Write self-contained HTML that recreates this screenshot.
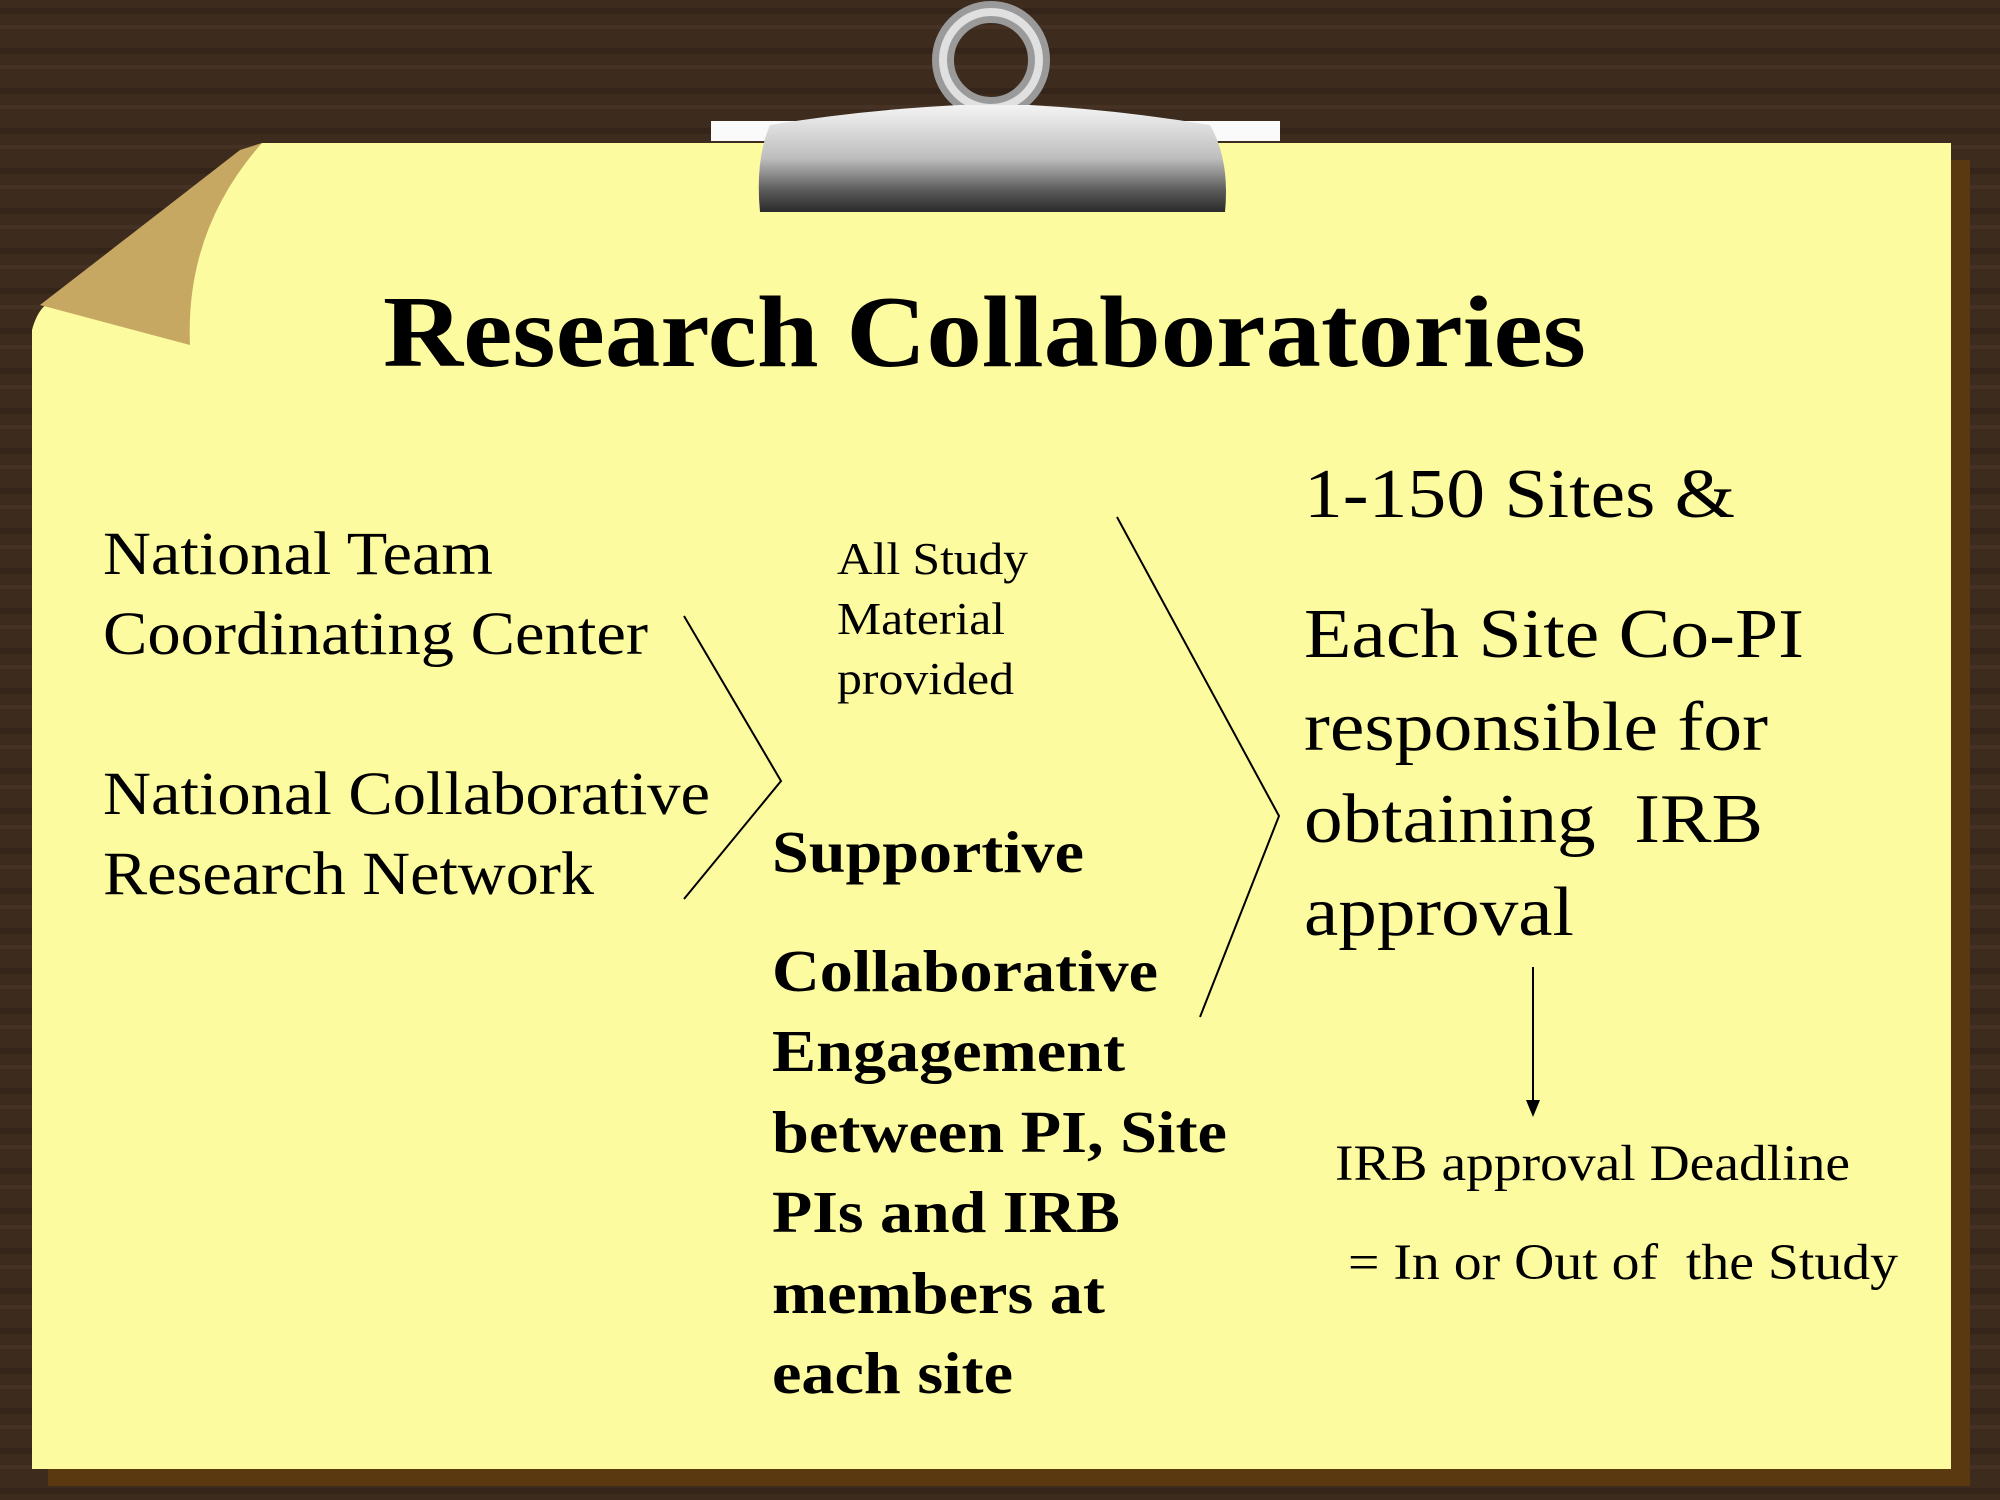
<!DOCTYPE html>
<html><head><meta charset="utf-8"><style>
html,body{margin:0;padding:0;background:#3b2a1d;}
svg{display:block}
text{font-family:"Liberation Serif",serif;fill:#000}
</style></head><body>
<svg width="2000" height="1500" viewBox="0 0 2000 1500">
<defs>
<pattern id="wood" width="2000" height="40" patternUnits="userSpaceOnUse">
<rect width="2000" height="40" fill="#3d2b1e"/>
<rect y="8" width="2000" height="6" fill="#34241a"/>
<rect y="25" width="2000" height="4" fill="#453225"/>
</pattern>
<linearGradient id="metal" x1="0" y1="0" x2="0" y2="1">
<stop offset="0" stop-color="#f4f4f4"/><stop offset="0.5" stop-color="#bdbdbd"/><stop offset="0.8" stop-color="#5a5a5a"/><stop offset="1" stop-color="#2a2a2a"/>
</linearGradient>
</defs>
<rect width="2000" height="1500" fill="url(#wood)"/>
<g fill="#5a3810">
<rect x="1951" y="160" width="19" height="1326"/>
<rect x="48" y="1469" width="1922" height="17"/>
</g>
<path d="M262,143 L1951,143 L1951,1469 L32,1469 L32,330 Q40,300 60,300 Z" fill="#fdfb9f"/>
<path d="M262,143 L240,150 Q150,220 40,305 L190,345 Q185,230 262,143 Z" fill="#c7a862"/>
<g>
<rect x="711" y="121" width="569" height="20" fill="#fafafa"/>
<circle cx="991" cy="60" r="48" fill="none" stroke="#9a9a9a" stroke-width="22"/>
<circle cx="991" cy="60" r="48" fill="none" stroke="#e0e0e0" stroke-width="8"/>
<path d="M770,125 Q860,110 960,105 L1030,105 Q1120,110 1210,125 Q1230,160 1225,212 L760,212 Q755,160 770,125 Z" fill="url(#metal)"/>
</g>
<text x="383" y="366" font-size="102" font-weight="bold" textLength="1203" lengthAdjust="spacingAndGlyphs">Research Collaboratories</text>
<g font-size="61">
<text x="103" y="574" textLength="390" lengthAdjust="spacingAndGlyphs">National Team</text>
<text x="103" y="654" textLength="545" lengthAdjust="spacingAndGlyphs">Coordinating Center</text>
<text x="103" y="814" textLength="607" lengthAdjust="spacingAndGlyphs">National Collaborative</text>
<text x="103" y="894" textLength="491" lengthAdjust="spacingAndGlyphs">Research Network</text>
</g>
<g font-size="46">
<text x="837" y="574" textLength="191" lengthAdjust="spacingAndGlyphs">All Study</text>
<text x="837" y="634" textLength="168" lengthAdjust="spacingAndGlyphs">Material</text>
<text x="837" y="694" textLength="177" lengthAdjust="spacingAndGlyphs">provided</text>
</g>
<g font-size="59" font-weight="bold">
<text x="772" y="872" textLength="312" lengthAdjust="spacingAndGlyphs">Supportive</text>
<text x="772" y="991" textLength="386" lengthAdjust="spacingAndGlyphs">Collaborative</text>
<text x="772" y="1071" textLength="353" lengthAdjust="spacingAndGlyphs">Engagement</text>
<text x="772" y="1152" textLength="455" lengthAdjust="spacingAndGlyphs">between PI, Site</text>
<text x="772" y="1232" textLength="348" lengthAdjust="spacingAndGlyphs">PIs and IRB</text>
<text x="772" y="1313" textLength="333" lengthAdjust="spacingAndGlyphs">members at</text>
<text x="772" y="1393" textLength="241" lengthAdjust="spacingAndGlyphs">each site</text>
</g>
<g font-size="70">
<text x="1304" y="517" textLength="431" lengthAdjust="spacingAndGlyphs">1-150 Sites &amp;</text>
<text x="1304" y="657" textLength="500" lengthAdjust="spacingAndGlyphs">Each Site Co-PI</text>
<text x="1304" y="750" textLength="464" lengthAdjust="spacingAndGlyphs">responsible for</text>
<text x="1304" y="842" xml:space="preserve" textLength="459" lengthAdjust="spacingAndGlyphs">obtaining  IRB</text>
<text x="1304" y="935" textLength="270" lengthAdjust="spacingAndGlyphs">approval</text>
</g>
<g font-size="51">
<text x="1335" y="1180" textLength="515" lengthAdjust="spacingAndGlyphs">IRB approval Deadline</text>
<text x="1348" y="1279" xml:space="preserve" textLength="550" lengthAdjust="spacingAndGlyphs">= In or Out of  the Study</text>
</g>
<g fill="none" stroke="#000" stroke-width="2">
<polyline points="684,616 781,781 684,899"/>
<polyline points="1117,517 1279,816 1200,1017"/>
<line x1="1533" y1="967" x2="1533" y2="1105"/>
</g>
<path d="M1526,1100 L1540,1100 L1533,1117 Z" fill="#000"/>
</svg>
</body></html>
